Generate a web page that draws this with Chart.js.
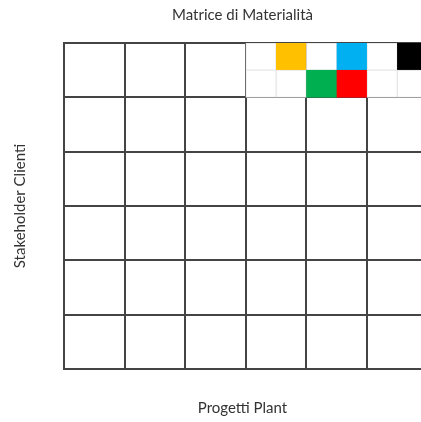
<!DOCTYPE html>
<html>
<head>
<meta charset="utf-8">
<script src="https://cdn.jsdelivr.net/npm/chart.js@4"></script>
<style>
  html, body { margin: 0; padding: 0; background: #fff; }
  #wrap { width: 421px; height: 422px; }
</style>
</head>
<body>
<div id="wrap"><canvas id="matrixChart"></canvas></div>
<script>
// <![CDATA[
var chartTitle = 'Matrice di Materialità';
var xTitle = 'Progetti Plant';
var yTitle = 'Stakeholder Clienti';

// half-cells of the upper right block (x centre, y from, y to, colour)
var cellX    = [3.25, 3.75, 4.25, 4.75, 5.25, 5.75, 3.25, 3.75, 4.25, 4.75, 5.25, 5.75];
var cellFrom = [5.5, 5.5, 5.5, 5.5, 5.5, 5.5, 5, 5, 5, 5, 5, 5];
var cellTo   = [6, 6, 6, 6, 6, 6, 5.5, 5.5, 5.5, 5.5, 5.5, 5.5];
var cellColors = ['#ffffff', '#ffc000', '#ffffff', '#00b0f0', '#ffffff', '#000000',
                  '#ffffff', '#ffffff', '#00b050', '#ff0000', '#ffffff', '#ffffff'];

var cells = cellX.map(function (x, i) { return { x: x, y: [cellFrom[i], cellTo[i]] }; });
var cellBorders = cellColors.map(function (c) { return c === '#ffffff' ? '#e6e6e6' : c; });

var font = "Lato, 'Open Sans', sans-serif";

// keep only whole-number grid lines (drop the clipped max)
function wholeTicks(scale) {
  scale.ticks = scale.ticks.filter(function (t) { return Number.isInteger(t.value); });
}

var ctx = document.getElementById('matrixChart').getContext('2d');
new Chart(ctx, {
  type: 'bar',
  data: {
    datasets: [{
      data: cells,
      backgroundColor: cellColors,
      borderColor: cellBorders,
      borderWidth: 1,
      borderSkipped: false,
      barPercentage: 1,
      categoryPercentage: 1
    }]
  },
  options: {
    responsive: true,
    maintainAspectRatio: false,
    animation: false,
    layout: { padding: 0 },
    plugins: {
      legend: { display: false },
      tooltip: { enabled: false },
      title: {
        display: true,
        text: chartTitle,
        fullSize: false,
        color: '#333',
        font: { family: font, size: 15, weight: 'normal' },
        padding: { top: 6, bottom: 19 }
      }
    },
    scales: {
      x: {
        type: 'linear',
        min: 0,
        max: 5.89,
        offset: false,
        z: 1,
        afterBuildTicks: wholeTicks,
        ticks: { display: false, stepSize: 1 },
        grid: { color: '#444', lineWidth: 2, drawTicks: false, offset: false },
        border: { display: true, color: '#444', width: 2 },
        title: {
          display: true,
          text: xTitle,
          color: '#333',
          font: { family: font, size: 15 },
          padding: { top: 30, bottom: 5 }
        }
      },
      y: {
        type: 'linear',
        min: 0,
        max: 6,
        z: 1,
        ticks: { display: false, stepSize: 1 },
        grid: { color: '#444', lineWidth: 2, drawTicks: false },
        border: { display: true, color: '#444', width: 2 },
        title: {
          display: true,
          text: yTitle,
          color: '#333',
          font: { family: font, size: 15 },
          padding: { top: 11, bottom: 35 }
        }
      }
    }
  }
});
// ]]>
</script>
</body>
</html>
